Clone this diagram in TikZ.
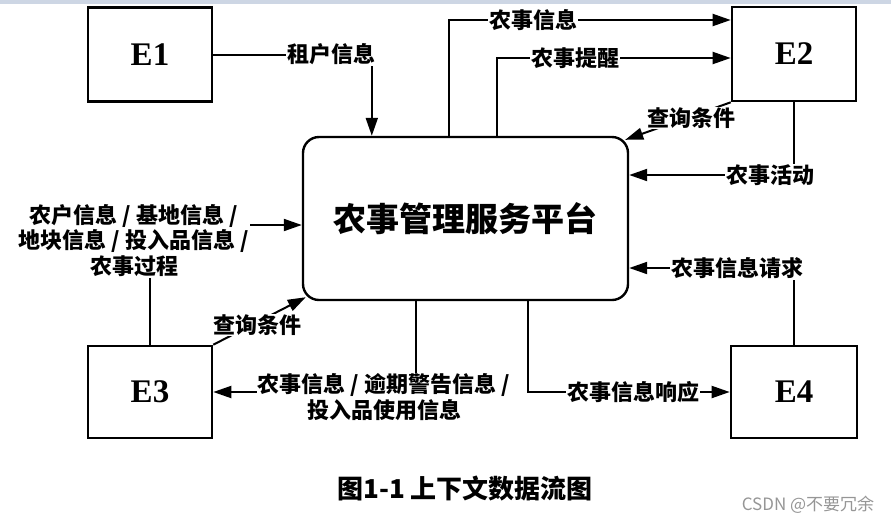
\documentclass[tikz,border=0pt]{standalone}
\usepackage{fontspec}
\setmainfont{Liberation Serif}
\newfontfamily\cjk{Noto Sans CJK SC}
\usetikzlibrary{arrows.meta}
\definecolor{strip}{RGB}{205,214,228}
\definecolor{wmgray}{RGB}{150,150,150}
\begin{document}
\begin{tikzpicture}[x=1pt,y=-1pt,
  ent/.style={draw, line width=2.6pt, minimum width=124pt, minimum height=94pt, inner sep=0pt,
    font=\fontsize{33}{36}\selectfont\bfseries},
  lbl/.style={fill=white, inner sep=1pt, align=center,
    font=\cjk\bfseries\fontsize{22}{25.5}\selectfont},
  flow/.style={line width=2pt},
  arr/.style={flow, -{Triangle[length=18pt,width=12pt]}}]
\useasboundingbox (0,0) rectangle (891,523);
\fill[strip] (0,0) rectangle (891,3.5);

\node[ent] (E1) at (150,54.5) {E1};
\node[ent] (E2) at (794,54) {E2};
\node[ent, minimum height=92pt] (E3) at (150,392) {E3};
\node[ent, minimum height=92pt, minimum width=126pt] (E4) at (794,392) {E4};
\node[draw, line width=2.4pt, rounded corners=16pt, minimum width=325pt, minimum height=163pt,
  font=\cjk\bfseries\fontsize{33}{36}\selectfont] (main) at (465.5,218.5) {农事管理服务平台};

% E1 -> main
\draw[arr] (E1.east) -| ([xshift=70pt]main.north west);
\node[lbl] (l1) at (331,54) {租户信息};
% main -> E2
\draw[arr] ([xshift=147pt]main.north west) |- ([yshift=34pt]E2.west);
\node[lbl] (l2) at (533,20) {农事信息};
\draw[arr] ([xshift=195pt]main.north west) |- ([yshift=-4pt]E2.west);
\node[lbl] (l3) at (575,58) {农事提醒};
% E2 -> main
\draw[arr] (E2.south west) -- ([xshift=-4pt,yshift=-4pt]main.north east);
\node[lbl] (l4) at (691,118) {查询条件};
\draw[arr] (E2.south) |- ([yshift=43.5pt]main.east);
\node[lbl] (l5) at (770,175) {农事活动};
% E4 <-> main
\draw[arr] (E4.north) |- ([yshift=-49.5pt]main.east);
\node[lbl] (l6) at (737,268) {农事信息请求};
\draw[arr] ([xshift=226pt]main.south west) |- (E4.west);
\node[lbl] (l7) at (633,392) {农事信息响应};
% main -> E3
\draw[arr] ([xshift=114pt]main.south west) |- (E3.east);
\node[lbl] (l8) at (384,397) {农事信息 / 逾期警告信息 /\\投入品使用信息};
% E3 -> main
\draw[arr] (E3.north east) -- ([xshift=4pt,yshift=4pt]main.south west);
\node[lbl] (l9) at (257,325) {查询条件};
\draw[arr] (E3.north) |- ([yshift=-6.5pt]main.west);
\node[lbl] (l10) at (134,240.5) {农户信息 / 基地信息 /\\地块信息 / 投入品信息 /\\农事过程};

\node[font=\cjk\bfseries\fontsize{26}{29}\selectfont] (cap) at (465,489) {图1-1 上下文数据流图};
\node[font=\cjk\fontsize{17}{20}\selectfont, text=wmgray] (wm) at (808,505) {CSDN @不要冗余};
\end{tikzpicture}
\end{document}
